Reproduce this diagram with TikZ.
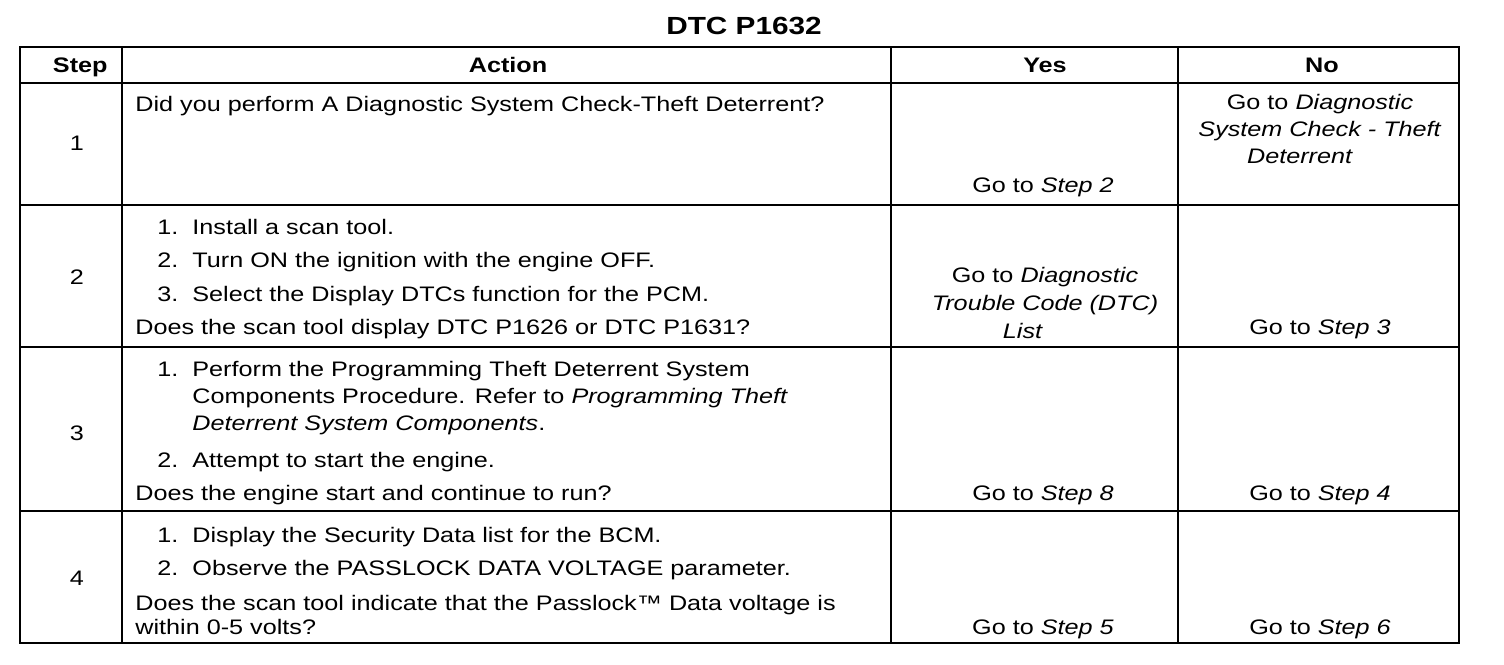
\documentclass[tikz,border=0pt]{standalone}
\usepackage{fontspec}
\setmainfont{Liberation Sans}[FakeStretch=1.2]
\begin{document}
\begin{tikzpicture}[x=0.5pt,y=-0.5pt,
  rule/.style={line width=1.4pt},
  txt/.style={anchor=base west,inner sep=0pt,font=\fontsize{10.5}{12}\selectfont},
  mid/.style={anchor=base,inner sep=0pt,font=\fontsize{10.5}{12}\selectfont},
  head/.style={anchor=base,inner sep=0pt,font=\fontsize{10.5}{12}\selectfont\bfseries}]
\useasboundingbox (0,0) rectangle (1504,664);
% table frame and rules
\draw[rule] (20,47) rectangle (1459,643);
\foreach \y in {83,205,347,511} \draw[rule] (20,\y) -- (1459,\y);
\foreach \x in {122,891,1178} \draw[rule] (\x,47) -- (\x,643);
% title and header
\node[head,font=\fontsize{12.4}{14}\selectfont\bfseries] (title) at (744,34) {DTC P1632};
\node[head,anchor=base east] (hstep) at (108,72) {Step};
\node[head] (haction) at (508,72) {Action};
\node[head] (hyes) at (1045,72) {Yes};
\node[head] (hno) at (1322,72) {No};
% step 1
\node[mid] (s1) at (77,150) {1};
\node[txt] (a1) at (135,111) {Did you perform A Diagnostic System Check-Theft Deterrent?};
\node[mid] (y1) at (1043,192) {Go to \textit{Step 2}};
\node[mid] (n1a) at (1320,109) {Go to \textit{Diagnostic}};
\node[mid] (n1b) at (1320,136) {\textit{System Check - Theft}};
\node[mid] (n1c) at (1300,163) {\textit{Deterrent}};
% step 2
\node[mid] (s2) at (77,284) {2};
\node[txt] (a2n1) at (157,234) {1.};
\node[txt] (a2t1) at (192,234) {Install a scan tool.};
\node[txt] (a2n2) at (157,267) {2.};
\node[txt] (a2t2) at (192,267) {Turn ON the ignition with the engine OFF.};
\node[txt] (a2n3) at (157,301) {3.};
\node[txt] (a2t3) at (192,301) {Select the Display DTCs function for the PCM.};
\node[txt] (a2q) at (135,334) {Does the scan tool display DTC P1626 or DTC P1631?};
\node[mid] (y2a) at (1045,282) {Go to \textit{Diagnostic}};
\node[mid] (y2b) at (1045,310) {\textit{Trouble Code (DTC)}};
\node[mid] (y2c) at (1023,338) {\textit{List}};
\node[mid] (n2) at (1320,334) {Go to \textit{Step 3}};
% step 3
\node[mid] (s3) at (77,440) {3};
\node[txt] (a3n1) at (157,376) {1.};
\node[txt] (a3t1) at (192,376) {Perform the Programming Theft Deterrent System};
\node[txt] (a3t1b) at (192,403) {Components Procedure. Refer to \textit{Programming Theft}};
\node[txt] (a3t1c) at (192,430) {\textit{Deterrent System Components}.};
\node[txt] (a3n2) at (157,467) {2.};
\node[txt] (a3t2) at (192,467) {Attempt to start the engine.};
\node[txt] (a3q) at (135,500) {Does the engine start and continue to run?};
\node[mid] (y3) at (1043,500) {Go to \textit{Step 8}};
\node[mid] (n3) at (1320,500) {Go to \textit{Step 4}};
% step 4
\node[mid] (s4) at (77,585) {4};
\node[txt] (a4n1) at (157,542) {1.};
\node[txt] (a4t1) at (192,542) {Display the Security Data list for the BCM.};
\node[txt] (a4n2) at (157,575) {2.};
\node[txt] (a4t2) at (192,575) {Observe the PASSLOCK DATA VOLTAGE parameter.};
\node[txt] (a4q) at (135,610) {Does the scan tool indicate that the Passlock™ Data voltage is};
\node[txt] (a4qb) at (135,634) {within 0-5 volts?};
\node[mid] (y4) at (1043,634) {Go to \textit{Step 5}};
\node[mid] (n4) at (1320,634) {Go to \textit{Step 6}};
\end{tikzpicture}
\end{document}
